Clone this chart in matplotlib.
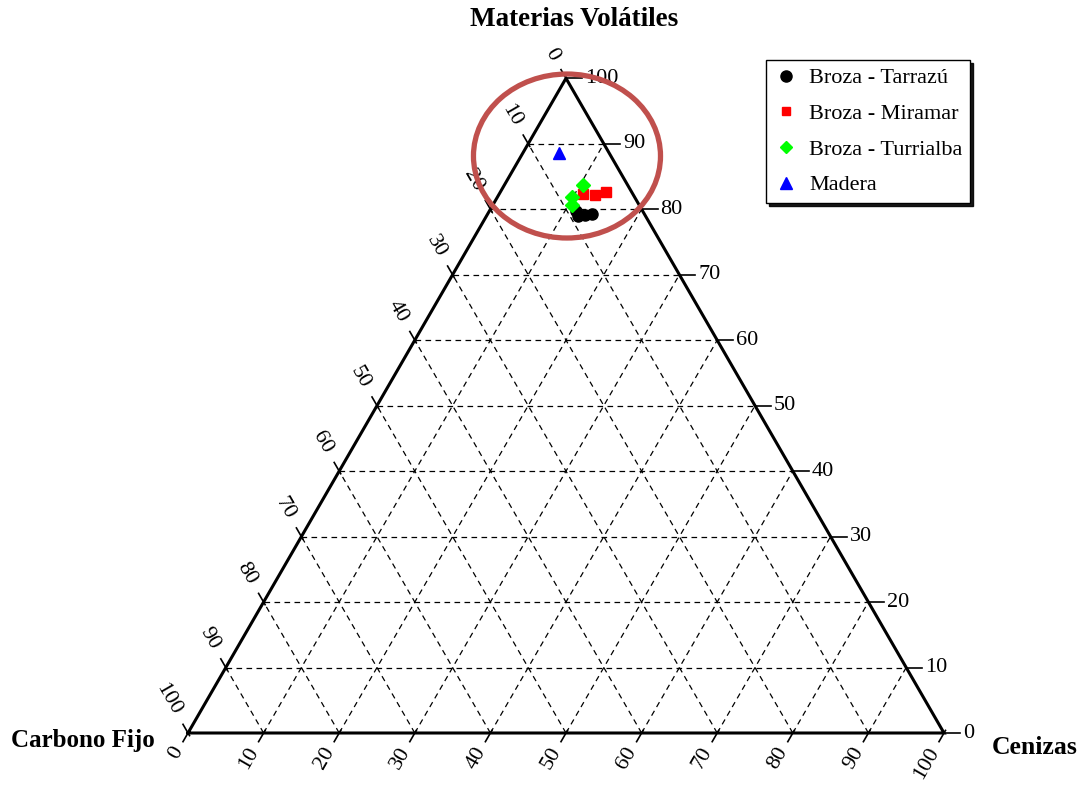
import numpy as np
import matplotlib
matplotlib.use("Agg")
import matplotlib.pyplot as plt
from matplotlib.patches import Ellipse
from matplotlib.lines import Line2D

# ---------------- data (percentages) ----------------
tarrazu_volatiles = [79.7, 79.0, 79.1, 79.2]
tarrazu_carbono = [8.8, 8.9, 7.9, 7.0]
tarrazu_cenizas = [11.5, 12.1, 13.0, 13.8]

miramar_volatiles = [82.4, 82.2, 82.7]
miramar_carbono = [6.5, 5.1, 3.4]
miramar_cenizas = [11.1, 12.7, 13.9]

turrialba_volatiles = [83.7, 81.9, 80.6]
turrialba_carbono = [5.9, 8.3, 8.9]
turrialba_cenizas = [10.4, 9.8, 10.5]

madera_volatiles = [88.6]
madera_carbono = [6.6]
madera_cenizas = [4.8]

series_names = ["Broza - Tarrazú", "Broza - Miramar", "Broza - Turrialba", "Madera"]
tick_values = [0, 10, 20, 30, 40, 50, 60, 70, 80, 90, 100]
axis_titles = ["Materias Volátiles", "Carbono Fijo", "Cenizas"]

# ---------------- helpers ----------------
H = np.sqrt(3) / 2


def tern(vol, ash):
    vol = np.asarray(vol, float)
    ash = np.asarray(ash, float)
    return ash / 100 + vol / 200, vol / 100 * H


plt.rcParams['font.family'] = ['Liberation Serif', 'DejaVu Serif']

W, Hpx = 1084, 785
fig = plt.figure(figsize=(W / 100, Hpx / 100), dpi=100)
left_px, bottom_px, side_px = 188, 733, 756
ax = fig.add_axes([left_px / W, (Hpx - bottom_px) / Hpx,
                   side_px / W, side_px * H / Hpx])
ax.set_xlim(0, 1)
ax.set_ylim(0, H)
ax.axis('off')

px = 1 / side_px  # one pixel in data units

# grid lines
grid_kw = dict(color='black', lw=0.9, ls=(0, (4.5, 3.5)), zorder=1)
for t in tick_values[1:-1]:
    x, y = tern([t, t], [0, 100 - t])
    ax.plot(x, y, **grid_kw)
    x, y = tern([0, 100 - t], [t, t])
    ax.plot(x, y, **grid_kw)
    x, y = tern([0, 100 - t], [100 - t, 0])
    ax.plot(x, y, **grid_kw)

# triangle frame
x, y = tern([0, 0, 100, 0], [0, 100, 0, 0])
ax.plot(x, y, color='black', lw=2.2, zorder=3, solid_joinstyle='miter',
        clip_on=False)

tick_kw = dict(color='black', lw=1.2, zorder=3, clip_on=False)
lab_kw = dict(fontsize=16, color='black', clip_on=False)

d120 = np.array([np.cos(np.radians(120)), np.sin(np.radians(120))])
d240 = np.array([np.cos(np.radians(240)), np.sin(np.radians(240))])

for t in tick_values:
    # right axis: volatiles
    x0, y0 = tern(t, 100 - t)
    ax.plot([x0, x0 + 16 * px], [y0, y0], **tick_kw)
    ax.text(x0 + 19 * px, y0, f"{t}", ha='left', va='center', **lab_kw)
    # left axis: carbono fijo (0 at top, 100 at bottom-left)
    x0, y0 = tern(100 - t, 0)
    p1 = np.array([x0, y0]) + d120 * 10 * px
    ax.plot([x0 - d120[0] * 3 * px, p1[0]], [y0 - d120[1] * 3 * px, p1[1]], **tick_kw)
    pl = np.array([x0, y0]) + d120 * 22 * px
    ax.text(pl[0], pl[1], f"{t}", rotation=-60, rotation_mode='anchor',
            ha='right', va='center', **lab_kw)
    # bottom axis: cenizas
    x0, y0 = tern(0, t)
    p1 = np.array([x0, y0]) + d240 * 10 * px
    ax.plot([x0 - d240[0] * 3 * px, p1[0]], [y0 - d240[1] * 3 * px, p1[1]], **tick_kw)
    pl = np.array([x0, y0]) + d240 * 18 * px
    ax.text(pl[0], pl[1], f"{t}", rotation=60, rotation_mode='anchor',
            ha='right', va='center', **lab_kw)

# data points
x, y = tern(tarrazu_volatiles, tarrazu_cenizas)
ax.plot(x, y, 'o', color='black', ms=8, ls='none', zorder=5)
x, y = tern(miramar_volatiles, miramar_cenizas)
ax.plot(x, y, 's', color='#FF0000', ms=6.5, ls='none', zorder=5)
x, y = tern(turrialba_volatiles, turrialba_cenizas)
ax.plot(x, y, 'D', color='#00FF00', ms=7, ls='none', zorder=6)
x, y = tern(madera_volatiles, madera_cenizas)
ax.plot(x, y, '^', color='#0000FF', ms=8.5, ls='none', zorder=5)

# highlight ellipse
ell = Ellipse((0.5013, 0.7632), 0.2474, 0.2169, fill=False,
              edgecolor='#C0504D', lw=3.8, zorder=7, clip_on=False)
ax.add_patch(ell)

# axis titles
fig.text(574 / W, 1 - 20 / Hpx, axis_titles[0], ha='center', va='center',
         fontsize=19.5, fontweight='bold')
fig.text(11 / W, 1 - 740 / Hpx, axis_titles[1], ha='left', va='center',
         fontsize=18, fontweight='bold')
fig.text(992 / W, 1 - 748 / Hpx, axis_titles[2], ha='left', va='center',
         fontsize=18.5, fontweight='bold')

# legend
handles = [
    Line2D([], [], marker='o', color='black', ls='none', ms=8),
    Line2D([], [], marker='s', color='#FF0000', ls='none', ms=6),
    Line2D([], [], marker='D', color='#00FF00', ls='none', ms=6.5),
    Line2D([], [], marker='^', color='#0000FF', ls='none', ms=8),
]
leg = fig.legend(handles, series_names, loc='upper left',
                 bbox_to_anchor=(766 / W, 1 - 60 / Hpx),
                 prop={'family': 'Liberation Serif', 'size': 16},
                 frameon=True, fancybox=False, shadow={'color': 'black', 'alpha': 0.9},
                 edgecolor='black', framealpha=1, borderpad=0.35,
                 labelspacing=0.68, handletextpad=0.5, handlelength=1.1,
                 borderaxespad=0)
leg.get_frame().set_linewidth(1.0)

fig.savefig('out.png', dpi=100)
